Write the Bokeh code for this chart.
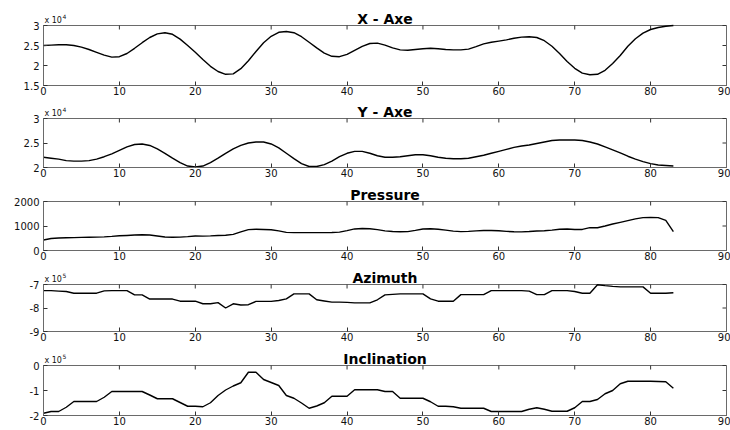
from bokeh.plotting import figure
from bokeh.models import Range1d, FixedTicker, LinearAxis
from bokeh.core.properties import value
from bokeh.layouts import column
from bokeh.embed import file_html
from bokeh.resources import INLINE

# ---------------- data (sample index 0..83) ----------------
samples = list(range(84))

x_axe = [2.50, 2.51, 2.52, 2.52, 2.50, 2.46, 2.40, 2.33, 2.26, 2.21,
         2.22, 2.30, 2.43, 2.57, 2.70, 2.79, 2.82, 2.78, 2.66, 2.50,
         2.33, 2.15, 1.98, 1.85, 1.78, 1.79, 1.92, 2.12, 2.35, 2.57,
         2.73, 2.83, 2.85, 2.82, 2.72, 2.58, 2.44, 2.31, 2.23, 2.22,
         2.28, 2.38, 2.48, 2.55, 2.56, 2.51, 2.44, 2.39, 2.38, 2.40,
         2.42, 2.43, 2.42, 2.40, 2.39, 2.39, 2.41, 2.47, 2.54, 2.58,
         2.61, 2.64, 2.68, 2.71, 2.72, 2.70, 2.62, 2.48, 2.30, 2.10,
         1.93, 1.81, 1.77, 1.78, 1.88, 2.05, 2.25, 2.48, 2.67, 2.81,
         2.90, 2.95, 2.98, 3.00]

y_axe = [2.21, 2.19, 2.17, 2.14, 2.13, 2.13, 2.14, 2.17, 2.22, 2.28,
         2.35, 2.42, 2.47, 2.48, 2.45, 2.38, 2.29, 2.19, 2.10, 2.03,
         2.01, 2.03, 2.10, 2.19, 2.29, 2.38, 2.45, 2.50, 2.52, 2.52,
         2.48, 2.40, 2.29, 2.18, 2.08, 2.02, 2.02, 2.06, 2.13, 2.22,
         2.29, 2.33, 2.33, 2.29, 2.24, 2.21, 2.21, 2.22, 2.24, 2.26,
         2.26, 2.24, 2.21, 2.19, 2.18, 2.18, 2.19, 2.22, 2.25, 2.29,
         2.33, 2.37, 2.41, 2.44, 2.46, 2.49, 2.52, 2.55, 2.56, 2.56,
         2.56, 2.55, 2.52, 2.48, 2.42, 2.36, 2.30, 2.23, 2.17, 2.12,
         2.08, 2.05, 2.04, 2.03]

pressure = [430, 490, 510, 520, 525, 535, 540, 545, 555, 575,
            600, 615, 630, 645, 630, 590, 550, 540, 545, 565,
            590, 585, 595, 610, 625, 660, 760, 850, 865, 860,
            845, 800, 740, 730, 730, 730, 730, 730, 735, 750,
            810, 880, 895, 890, 850, 800, 775, 765, 770, 820,
            875, 885, 870, 830, 790, 770, 780, 800, 815, 815,
            805, 780, 765, 760, 775, 795, 805, 830, 870, 880,
            860, 860, 935, 930, 1000, 1080, 1150, 1220, 1290, 1340,
            1350, 1340, 1230, 770]

azimuth = [-7.26, -7.26, -7.28, -7.30, -7.37, -7.37, -7.37, -7.37, -7.27, -7.26,
           -7.26, -7.26, -7.44, -7.44, -7.62, -7.62, -7.62, -7.62, -7.71, -7.71,
           -7.71, -7.82, -7.82, -7.77, -8.00, -7.82, -7.87, -7.86, -7.72, -7.72,
           -7.72, -7.68, -7.61, -7.40, -7.40, -7.40, -7.65, -7.70, -7.75, -7.75,
           -7.76, -7.78, -7.78, -7.78, -7.65, -7.44, -7.42, -7.40, -7.40, -7.40,
           -7.40, -7.61, -7.71, -7.71, -7.71, -7.43, -7.43, -7.43, -7.43, -7.26,
           -7.26, -7.26, -7.26, -7.26, -7.28, -7.43, -7.43, -7.26, -7.26, -7.26,
           -7.30, -7.37, -7.37, -7.01, -7.05, -7.08, -7.10, -7.10, -7.10, -7.10,
           -7.37, -7.37, -7.37, -7.35]

inclination = [-1.91, -1.84, -1.84, -1.67, -1.44, -1.44, -1.44, -1.44, -1.27, -1.04,
               -1.04, -1.04, -1.04, -1.04, -1.18, -1.33, -1.33, -1.33, -1.48, -1.63,
               -1.63, -1.65, -1.49, -1.20, -0.98, -0.82, -0.69, -0.27, -0.27, -0.56,
               -0.68, -0.80, -1.20, -1.31, -1.50, -1.71, -1.62, -1.49, -1.23, -1.23,
               -1.23, -0.97, -0.97, -0.97, -0.97, -1.04, -1.04, -1.31, -1.31, -1.31,
               -1.31, -1.45, -1.63, -1.63, -1.65, -1.71, -1.71, -1.71, -1.71, -1.84,
               -1.84, -1.84, -1.84, -1.84, -1.75, -1.69, -1.75, -1.83, -1.83, -1.83,
               -1.69, -1.44, -1.44, -1.36, -1.13, -1.00, -0.73, -0.63, -0.63, -0.63,
               -0.63, -0.64, -0.65, -0.91]

titles = ["X - Axe", "Y - Axe", "Pressure", "Azimuth", "Inclination"]
exponents = ["4", "4", None, "5", "5"]
x_ticks = [0, 10, 20, 30, 40, 50, 60, 70, 80, 90]
y_ticks = [[1.5, 2, 2.5, 3], [2, 2.5, 3], [0, 1000, 2000], [-9, -8, -7], [-2, -1, 0]]
y_tick_labels = [["1.5", "2", "2.5", "3"], ["2", "2.5", "3"], ["0", "1000", "2000"],
                 ["-9", "-8", "-7"], ["-2", "-1", "0"]]
series = [x_axe, y_axe, pressure, azimuth, inclination]

# ---------------- layout / style (pixels) ----------------
head_px = [25, 20, 20, 20, 20]      # space above each box for its title
box_px = [60, 49, 49, 47, 50]       # height of each axes box
foot_px = [13, 14, 14, 14, 15]      # space below each box for x tick labels

FONT = "DejaVu Sans"
AXC = "#6a6a6a"
TKC = "#333333"

figs = []
for i in range(5):
    lo, hi = y_ticks[i][0], y_ticks[i][-1]
    top = hi + head_px[i] * (hi - lo) / box_px[i]
    p = figure(width=730, height=head_px[i] + box_px[i] + foot_px[i],
               x_range=Range1d(0, 90), y_range=Range1d(lo, top),
               output_backend="svg", toolbar_location=None, title=None,
               min_border_left=43, min_border_right=4,
               min_border_top=0, min_border_bottom=foot_px[i])
    p.xgrid.visible = False
    p.ygrid.visible = False
    p.outline_line_color = None
    p.background_fill_color = "white"
    p.border_fill_color = "white"

    for ax in (p.xaxis[0], p.yaxis[0]):
        ax.axis_line_color = AXC
        ax.major_tick_line_color = TKC
        ax.major_tick_in = 4
        ax.major_tick_out = 0
        ax.minor_tick_line_color = None
        ax.major_label_text_font = FONT
        ax.major_label_text_font_size = "10px"
        ax.major_label_text_color = "#111111"
    p.xaxis[0].ticker = FixedTicker(ticks=x_ticks)
    p.xaxis[0].major_label_standoff = 1
    p.yaxis[0].ticker = FixedTicker(ticks=y_ticks[i])
    p.yaxis[0].bounds = (lo, hi)
    p.yaxis[0].major_label_overrides = {t: s for t, s in zip(y_ticks[i], y_tick_labels[i])}
    p.yaxis[0].major_label_standoff = 4

    right_ax = LinearAxis(ticker=FixedTicker(ticks=[]), bounds=(lo, hi),
                          axis_line_color=AXC, major_tick_out=0, major_tick_in=0,
                          minor_tick_line_color=None, major_label_standoff=0)
    p.add_layout(right_ax, "right")

    # box top edge and inward tick marks on the top and right edges
    p.quad(left=[0], right=[90], bottom=[lo], top=[hi], fill_color=None, line_color=AXC, line_width=1)
    p.ray(x=x_ticks, y=[hi] * len(x_ticks), length=4, length_units="screen",
          angle=-90, angle_units="deg", line_color=TKC, line_width=1)
    p.ray(x=[90] * len(y_ticks[i]), y=y_ticks[i], length=4, length_units="screen",
          angle=180, angle_units="deg", line_color=TKC, line_width=1)

    p.line(samples, series[i], line_color="black", line_width=1.4)

    p.text(x=[45], y=[hi], text=[titles[i]], text_align="center", text_baseline="alphabetic",
           y_offset=-7, text_font=value(FONT), text_font_style="bold", text_font_size="14px",
           text_color="black")
    if exponents[i]:
        p.text(x=[0], y=[hi], text=["x 10"], text_align="left", text_baseline="alphabetic",
               x_offset=1, y_offset=-5, text_font=value(FONT), text_font_size="8px",
               text_color="#111111")
        p.text(x=[0], y=[hi], text=[exponents[i]], text_align="left", text_baseline="alphabetic",
               x_offset=19, y_offset=-9, text_font=value(FONT), text_font_size="6px",
               text_color="#111111")
    figs.append(p)

layout = column(*figs, spacing=0)
open("out.html", "w").write(file_html(layout, INLINE))
